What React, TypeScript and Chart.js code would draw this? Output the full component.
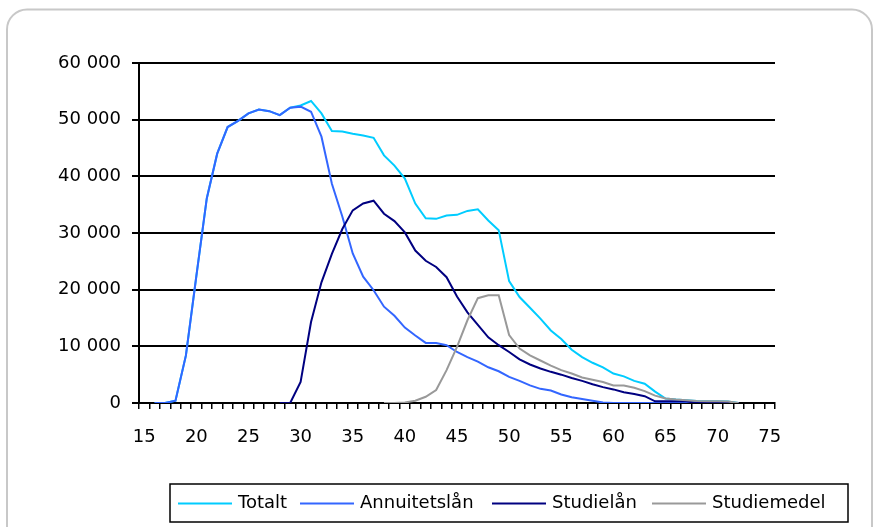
import React, { useEffect, useRef } from "react";
import { Chart, registerables } from "chart.js";

Chart.register(...registerables);

const ages = [
  "15", "16", "17", "18", "19", "20", "21", "22", "23", "24", "25", "26", "27", "28", "29",
  "30", "31", "32", "33", "34", "35", "36", "37", "38", "39", "40", "41", "42", "43", "44",
  "45", "46", "47", "48", "49", "50", "51", "52", "53", "54", "55", "56", "57", "58", "59",
  "60", "61", "62", "63", "64", "65", "66", "67", "68", "69", "70", "71", "72", "73", "74", "75",
];

// ages 15..75
const totalt = [
  null, 0, 0, 400, 8400, 22400, 36100, 44000, 48700, 49800, 51100, 51800, 51500, 50800, 52100,
  52500, 53300, 51100, 48000, 47900, 47500, 47200, 46800, 43700, 41900, 39600, 35200, 32600, 32500, 33100,
  33200, 33900, 34200, 32200, 30500, 21500, 18700, 16800, 14900, 12800, 11300, 9400, 8100, 7100, 6300,
  5200, 4700, 3900, 3400, 2000, 800, 600, 500, 350, 300, 300, 250, 0, null, null, null,
];

const annuitetslan = [
  null, 0, 0, 400, 8400, 22400, 36100, 44000, 48700, 49800, 51100, 51800, 51500, 50800, 52100,
  52300, 51400, 47000, 38700, 32900, 26400, 22300, 19900, 17000, 15400, 13300, 11900, 10600, 10600, 10200,
  9000, 8100, 7300, 6300, 5600, 4600, 3900, 3100, 2500, 2200, 1500, 1000, 700, 400, 100,
  0, 0, 0, 0, 0, 0, 0, 0, 0, 0, 0, 0, 0, null, null, null,
];

const studielan = [
  null, null, null, null, null, null, null, null, null, null, null, null, null, 0, 0,
  3700, 14300, 21300, 26300, 30700, 34000, 35200, 35700, 33400, 32100, 30100, 26900, 25100, 24000, 22200,
  18800, 16000, 13800, 11600, 10200, 9000, 7700, 6800, 6100, 5500, 5000, 4400, 3900, 3300, 2800,
  2400, 1900, 1600, 1200, 300, 300, 300, 300, 0, 0, 0, 0, 0, null, null, null,
];

const studiemedel = [
  null, null, null, null, null, null, null, null, null, null, null, null, null, null, null,
  null, null, null, null, null, null, null, null, 0, 0, 100, 400, 1100, 2300, 5800,
  9900, 14600, 18500, 19000, 19000, 12000, 9600, 8400, 7500, 6600, 5800, 5200, 4500, 4100, 3700,
  3100, 3100, 2700, 2100, 1300, 800, 600, 500, 350, 300, 300, 250, 0, null, null, null,
];

const seriesNames = ["Totalt", "Annuitetslån", "Studielån", "Studiemedel"];
const seriesColors = ["#00CCFF", "#3366FF", "#000080", "#999999"];

const FONT = "'DejaVu Sans', sans-serif";

const formatThousands = (v: number) =>
  String(v).replace(/\B(?=(\d{3})+(?!\d))/g, " ");

const framePlugin = {
  id: "frame",
  beforeDraw(chart: any) {
    const ctx = chart.ctx;
    ctx.save();
    ctx.fillStyle = "#ffffff";
    ctx.fillRect(0, 0, chart.width, chart.height);
    ctx.strokeStyle = "#c8c8c8";
    ctx.lineWidth = 2;
    ctx.beginPath();
    (ctx as any).roundRect(7, 9.5, 865, 540, 20);
    ctx.stroke();
    ctx.restore();
  },
};

const legendPlugin = {
  id: "boxLegend",
  afterDraw(chart: any) {
    const ctx = chart.ctx;
    ctx.save();
    ctx.strokeStyle = "#000";
    ctx.lineWidth = 1.5;
    ctx.strokeRect(170, 484, 678, 38);
    const lineStarts = [178, 300, 492, 652];
    const y = 503.5;
    ctx.font = `18px ${FONT}`;
    ctx.textBaseline = "middle";
    ctx.textAlign = "left";
    chart.data.datasets.forEach((ds: any, i: number) => {
      const x0 = lineStarts[i];
      ctx.strokeStyle = ds.borderColor;
      ctx.lineWidth = 2;
      ctx.beginPath();
      ctx.moveTo(x0, y);
      ctx.lineTo(x0 + 54, y);
      ctx.stroke();
      ctx.fillStyle = "#000";
      ctx.fillText(ds.label, x0 + 60, y);
    });
    ctx.restore();
  },
};

export default function App() {
  const ref = useRef<HTMLCanvasElement | null>(null);

  useEffect(() => {
    if (!ref.current) return;
    const seriesData = [totalt, annuitetslan, studielan, studiemedel];
    const orders = [3, 2, 1, 0];
    const chart = new Chart(ref.current, {
      type: "line",
      data: {
        labels: ages,
        datasets: seriesData.map((d, i) => ({
          label: seriesNames[i],
          data: d,
          borderColor: seriesColors[i],
          backgroundColor: seriesColors[i],
          borderWidth: 2,
          pointRadius: 0,
          tension: 0,
          fill: false,
          spanGaps: false,
          order: orders[i],
        })),
      },
      options: {
        animation: false,
        responsive: false,
        layout: { padding: { left: 0, top: 63, right: 100, bottom: 0 } },
        plugins: {
          legend: { display: false },
          tooltip: { enabled: false },
        },
        scales: {
          x: {
            type: "category",
            offset: true,
            grid: {
              offset: true,
              drawOnChartArea: false,
              drawTicks: true,
              tickLength: 6,
              color: "#000",
              lineWidth: 1.5,
            },
            border: { color: "#000", width: 2 },
            ticks: {
              autoSkip: false,
              maxRotation: 0,
              minRotation: 0,
              padding: 18,
              color: "#000",
              font: { family: FONT, size: 18 },
              callback: function (this: any, val: any) {
                const l = this.getLabelForValue(val);
                return Number(l) % 5 === 0 ? l : "";
              },
            },
            afterFit: (s: any) => {
              s.height = 124;
            },
          },
          y: {
            min: 0,
            max: 60000,
            ticks: {
              stepSize: 10000,
              padding: 11,
              color: "#000",
              font: { family: FONT, size: 18 },
              callback: (v: any) => formatThousands(Number(v)),
            },
            grid: { color: "#000", lineWidth: 2, tickLength: 7 },
            border: { color: "#000", width: 2 },
            afterFit: (s: any) => {
              s.width = 139;
            },
          },
        },
      },
      plugins: [framePlugin, legendPlugin],
    });
    return () => chart.destroy();
  }, []);

  return (
    <div style={{ position: "fixed", left: 0, top: 0, width: 875, height: 527, background: "#fff" }}>
      <canvas ref={ref} width={875} height={527} style={{ display: "block" }} />
    </div>
  );
}
